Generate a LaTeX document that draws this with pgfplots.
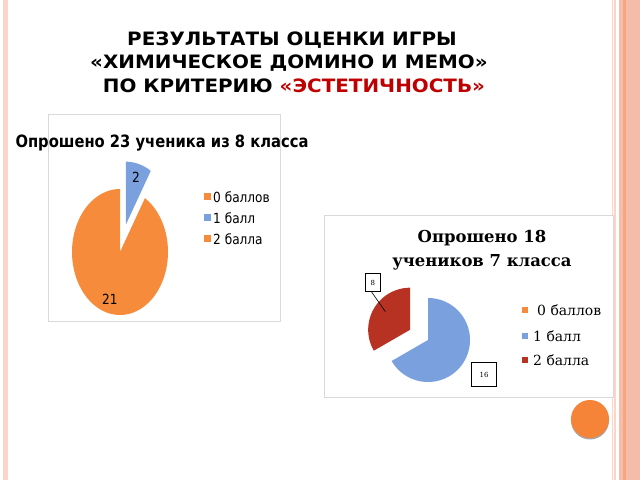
\documentclass[border=0pt]{standalone}
\usepackage{pgfplots}
\pgfplotsset{compat=1.18}
\usepackage{pgfplotstable}
\usepackage{fontspec}
\setmainfont{DejaVu Sans}
\newfontfamily\titlefont{DejaVu Sans}[FakeStretch=1.08]
\newfontfamily\condfont{DejaVu Sans}[FakeStretch=0.87]
\newfontfamily\seriffont{DejaVu Serif}

\definecolor{pieorange}{HTML}{F68B3B}
\definecolor{pieblue}{HTML}{7AA0DD}
\definecolor{piered}{HTML}{B73222}
\definecolor{stripe}{HTML}{F4BDAA}
\definecolor{stripelight}{HTML}{FBD5C8}
\definecolor{stripeorange}{HTML}{F8A67E}
\definecolor{boxgray}{HTML}{D9D9D9}
\definecolor{titlered}{HTML}{C00000}

% 8 класс: 0 баллов, 1 балл, 2 балла
\pgfplotstableread{
label value
0 0
1 2
2 21
}\classeight
% 7 класс
\pgfplotstableread{
label value
0 0
1 16
2 8
}\classseven

\begin{document}
\begin{tikzpicture}[x=1bp,y=1bp]
\path[use as bounding box, fill=white] (0,0) rectangle (640,480);

% slide decoration
\fill[stripelight] (3,0) rectangle (7.5,480);
\fill[stripelight] (611.5,0) rectangle (613,480);
\fill[stripelight] (614,0) rectangle (615.5,480);
\fill[stripe] (619,0) rectangle (640,480);
\fill[stripeorange] (623,0) rectangle (625.5,480);

% main title
\node[anchor=base, font=\titlefont\bfseries\fontsize{18.5}{20}\selectfont] at (292,434) {РЕЗУЛЬТАТЫ ОЦЕНКИ ИГРЫ};
\node[anchor=base, font=\titlefont\bfseries\fontsize{18.5}{20}\selectfont] at (289,411) {«ХИМИЧЕСКОЕ ДОМИНО И МЕМО»};
\node[anchor=base, font=\titlefont\bfseries\fontsize{18.5}{20}\selectfont] at (294,387) {ПО КРИТЕРИЮ \textcolor{titlered}{«ЭСТЕТИЧНОСТЬ»}};

% ---------- 8 класс ----------
\pgfplotstablegetelem{1}{value}\of\classeight \let\eB\pgfplotsretval
\pgfplotstablegetelem{2}{value}\of\classeight \let\eC\pgfplotsretval
\pgfmathsetmacro\eT{\eB+\eC}
\pgfmathsetmacro\eBend{90-360*\eB/\eT}
\pgfmathsetmacro\eCend{\eBend-360*\eC/\eT}
\pgfmathsetmacro\eBmid{(90+\eBend)/2}
\pgfmathsetmacro\eCmid{(\eBend+\eCend)/2}
\pgfmathsetmacro\ox{0.45*cos(\eBmid)}
\pgfmathsetmacro\oy{0.45*sin(\eBmid)}

\draw[boxgray, fill=white, line width=0.8] (48,366) rectangle (280,159);
\node[anchor=base, font=\condfont\bfseries\fontsize{17}{19}\selectfont] at (162,332) {Опрошено 23 ученика из 8 класса};

\begin{axis}[
  hide axis, clip=false,
  x=48bp, y=63bp,
  xmin=-2, xmax=2, ymin=-2, ymax=2,
  anchor=origin, at={(120bp,228bp)},
]
\addplot[fill=pieorange, draw=none, domain=\eCend:\eBend, samples=90]
  ({cos(x)},{sin(x)}) -- (axis cs:0,0) -- cycle;
\addplot[fill=pieblue, draw=none, domain=\eBend:90, samples=20]
  ({\ox+cos(x)},{\oy+sin(x)}) -- (axis cs:\ox,\oy) -- cycle;
\node[font=\condfont\fontsize{14}{16}\selectfont] at (axis cs:{\ox+0.78*cos(\eBmid)},{\oy+0.78*sin(\eBmid)}) {\eB};
\node[font=\condfont\fontsize{14}{16}\selectfont] at (axis cs:{0.78*cos(\eCmid)},{0.78*sin(\eCmid)}) {\eC};
\end{axis}

% legend 8 класс
\begin{scope}[font=\condfont\fontsize{14}{16}\selectfont]
\fill[pieorange] (204,279.5) rectangle (211,286.5);
\node[anchor=west, inner sep=0] at (213,283) {0 баллов};
\fill[pieblue] (204,258.5) rectangle (211,265.5);
\node[anchor=west, inner sep=0] at (213,262) {1 балл};
\fill[pieorange] (204,237.5) rectangle (211,244.5);
\node[anchor=west, inner sep=0] at (213,241) {2 балла};
\end{scope}

% ---------- 7 класс ----------
\pgfplotstablegetelem{1}{value}\of\classseven \let\sB\pgfplotsretval
\pgfplotstablegetelem{2}{value}\of\classseven \let\sC\pgfplotsretval
\pgfmathsetmacro\sT{\sB+\sC}
\pgfmathsetmacro\sBend{90-360*\sB/\sT}
\pgfmathsetmacro\sCend{\sBend-360*\sC/\sT}
\pgfmathsetmacro\sBmid{(90+\sBend)/2}
\pgfmathsetmacro\sCmid{(\sBend+\sCend)/2}
\pgfmathsetmacro\px{0.49*cos(\sCmid)}
\pgfmathsetmacro\py{0.49*sin(\sCmid)}

\draw[boxgray, fill=white, line width=0.8] (324,265) rectangle (613,83);
\node[anchor=base, font=\seriffont\bfseries\fontsize{16.5}{18}\selectfont] at (482,237) {Опрошено 18};
\node[anchor=base, font=\seriffont\bfseries\fontsize{16.5}{18}\selectfont] at (482,213) {учеников 7 класса};

\begin{axis}[
  hide axis, clip=false,
  x=42bp, y=42bp,
  xmin=-2, xmax=2, ymin=-2, ymax=2,
  anchor=origin, at={(428bp,140bp)},
]
\addplot[fill=pieblue, draw=none, domain=\sBend:90, samples=90]
  ({cos(x)},{sin(x)}) -- (axis cs:0,0) -- cycle;
\addplot[fill=piered, draw=none, domain=\sCend:\sBend, samples=40]
  ({\px+cos(x)},{\py+sin(x)}) -- (axis cs:\px,\py) -- cycle;
\draw[black, line width=0.6] (axis cs:{\px+0.73*cos(\sCmid-6)},{\py+0.73*sin(\sCmid-6)}) -- (axis cs:{\px-0.92},{\py+0.9});
\node[draw=black, line width=1.5, fill=white, minimum width=15bp, minimum height=18bp, inner sep=0,
  font=\seriffont\fontsize{7}{8}\selectfont] at (axis cs:{\px-0.89},{\py+1.12}) {\sC};
\node[draw=black, line width=1.5, fill=white, minimum width=25bp, minimum height=24bp, inner sep=0,
  font=\seriffont\fontsize{7}{8}\selectfont] at (axis cs:{1.57*cos(\sBmid-1.6)},{1.57*sin(\sBmid-1.6)}) {\sB};
\end{axis}

% legend 7 класс
\begin{scope}[font=\seriffont\fontsize{14}{16}\selectfont]
\fill[pieorange] (522,167) rectangle (528,173);
\node[anchor=west, inner sep=0] at (537,170) {0 баллов};
\fill[pieblue] (522,141) rectangle (528,147);
\node[anchor=west, inner sep=0] at (533,144) {1 балл};
\fill[piered] (522,117) rectangle (528,123);
\node[anchor=west, inner sep=0] at (533,120) {2 балла};
\end{scope}

% orange button
\fill[black!35] (590,59.5) circle (19);
\fill[pieorange!95!red] (590,61) circle (19);
\end{tikzpicture}
\end{document}
